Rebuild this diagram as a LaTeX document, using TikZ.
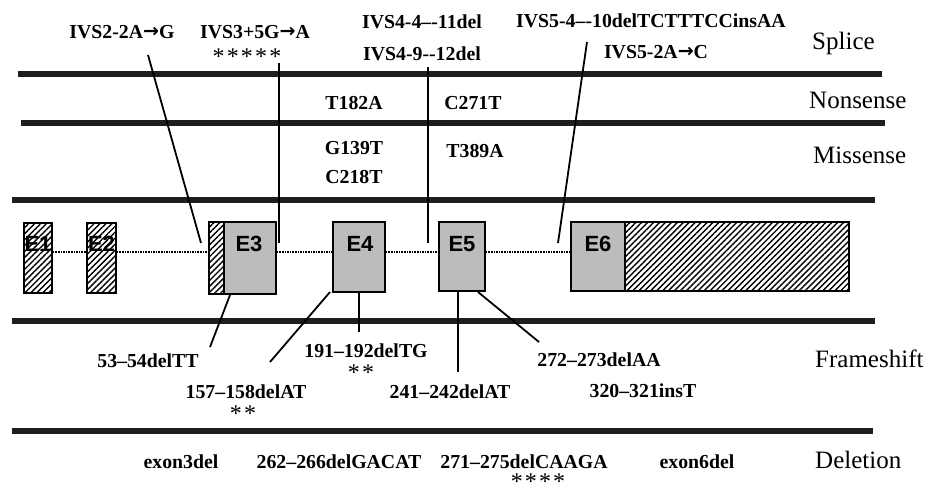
\documentclass[tikz,border=0pt]{standalone}
\usepackage{fontspec}
\setmainfont{Liberation Serif}
\setsansfont{Liberation Sans}
\newfontfamily\arrowfont{DejaVu Sans}
\newcommand{\rarr}{{\arrowfont\bfseries\fontsize{19}{20}\selectfont\raisebox{0.3pt}{→}}}
\newcommand{\stk}[1]{{\fontsize{24}{25}\selectfont\addfontfeature{LetterSpace=9}#1}}
\usetikzlibrary{patterns.meta}
\definecolor{exgray}{RGB}{188,188,188}
\definecolor{barcol}{RGB}{30,30,30}
\begin{document}
\begin{tikzpicture}[x=1pt,y=-1pt,
  lab/.style={font=\fontsize{19.8}{21}\selectfont\bfseries, inner sep=0pt, anchor=base},
  stars/.style={inner sep=0pt, anchor=base},
  cat/.style={font=\fontsize{25}{28}\selectfont, inner sep=0pt, anchor=base west},
  bar/.style={line width=6pt, draw=barcol},
  exbox/.style={draw=black, line width=1.4pt, fill=exgray, inner sep=0pt},
  hatchbox/.style={draw=black, line width=1.4pt, inner sep=0pt, fill=white,
    postaction={pattern={Lines[angle=45,distance=4.2pt,line width=1.4pt]}}},
  exlab/.style={font=\sffamily\bfseries\fontsize{22}{24}\selectfont, inner sep=0pt, anchor=center},
  intron/.style={densely dotted, line width=1.6pt},
  conn/.style={line width=1.8pt}]
\useasboundingbox (0,0) rectangle (934,490);

% horizontal bars
\coordinate (b1l) at (18,74);  \coordinate (b1r) at (882,74);
\coordinate (b2l) at (21,123); \coordinate (b2r) at (885,123);
\coordinate (b3l) at (12,200); \coordinate (b3r) at (875,200);
\coordinate (b4l) at (12,321); \coordinate (b4r) at (875,321);
\coordinate (b5l) at (12,431); \coordinate (b5r) at (873,431);
\draw[bar] (b1l) -- (b1r);
\draw[bar] (b2l) -- (b2r);
\draw[bar] (b3l) -- (b3r);
\draw[bar] (b4l) -- (b4r);
\draw[bar] (b5l) -- (b5r);

% exons
\node[hatchbox, minimum width=28, minimum height=70] (e1) at (38,258) {};
\node[hatchbox, minimum width=29, minimum height=70] (e2) at (101.5,258) {};
\node[hatchbox, minimum width=15, minimum height=72] (e3h) at (216.5,258) {};
\node[exbox, minimum width=52, minimum height=72] (e3) at (250,258) {};
\node[exbox, minimum width=52, minimum height=70] (e4) at (359,257) {};
\node[exbox, minimum width=46, minimum height=69] (e5) at (462,256.5) {};
\node[exbox, minimum width=54, minimum height=69] (e6) at (598,256.5) {};
\node[hatchbox, minimum width=224, minimum height=69] (e6h) at (737,256.5) {};

\node[exlab] (l1) at (38,244) {E1};
\node[exlab] (l2) at (101.5,244) {E2};
\node[exlab] (l3) at (249,244) {E3};
\node[exlab] (l4) at (360,244) {E4};
\node[exlab] (l5) at (462,244) {E5};
\node[exlab] (l6) at (598,244) {E6};

% introns
\coordinate (yi) at (0,252);
\draw[intron] (e1.east |- yi) -- (e2.west |- yi);
\draw[intron] (e2.east |- yi) -- (e3h.west |- yi);
\draw[intron] (e3.east |- yi) -- (e4.west |- yi);
\draw[intron] (e4.east |- yi) -- (e5.west |- yi);
\draw[intron] (e5.east |- yi) -- (e6.west |- yi);

% splice labels
\node[lab] (s1) at (122,38) {IVS2-2A\rarr G};
\node[lab] (s2) at (255,38) {IVS3+5G\rarr A};
\node[stars] (s2st) at (247,64) {\stk{*****}};
\node[lab] (s3) at (422,28) {IVS4-4–-11del};
\node[lab] (s4) at (422,60) {IVS4-9-{}-12del};
\node[lab] (s5) at (651,27) {IVS5-4–-10delTCTTTCCinsAA};
\node[lab] (s6) at (656,58) {IVS5-2A\rarr C};

% nonsense / missense
\node[lab] (n1) at (354,109) {T182A};
\node[lab] (n2) at (473,109) {C271T};
\node[lab] (m1) at (354,154) {G139T};
\node[lab] (m2) at (354,183) {C218T};
\node[lab] (m3) at (475,157) {T389A};

% frameshift
\node[lab] (f1) at (148,367) {53--54delTT};
\node[lab] (f2) at (246,398) {157--158delAT};
\node[stars] (f2st) at (243,421) {\stk{**}};
\node[lab] (f3) at (366,357) {191--192delTG};
\node[stars] (f3st) at (361,380) {\stk{**}};
\node[lab] (f4) at (450,398) {241--242delAT};
\node[lab] (f5) at (599,366) {272--273delAA};
\node[lab] (f6) at (643,397) {320--321insT};

% deletion
\node[lab] (d1) at (181,468) {exon3del};
\node[lab] (d2) at (339,468) {262--266delGACAT};
\node[lab] (d3) at (524,468) {271--275delCAAGA};
\node[stars] (d3st) at (538,489.5) {\stk{****}};
\node[lab] (d4) at (697,468) {exon6del};

% categories
\node[cat] (cs) at (812,49) {Splice};
\node[cat] (cn) at (809,108) {Nonsense};
\node[cat] (cm) at (813,163) {Missense};
\node[cat] (cf) at (815,367) {Frameshift};
\node[cat] (cd) at (815,468) {Deletion};

% connectors
\coordinate (k1a) at (148,55);  \coordinate (k1b) at (201,243);
\coordinate (k2a) at (279,63);  \coordinate (k2b) at (279,243);
\coordinate (k3a) at (428,67);  \coordinate (k3b) at (428,243);
\coordinate (k4a) at (587,42);  \coordinate (k4b) at (558,243);
\coordinate (k5a) at (230,295); \coordinate (k5b) at (210,347);
\coordinate (k6a) at (330,292); \coordinate (k6b) at (270,362);
\coordinate (k7b) at (359,332);
\coordinate (k8a) at (458,291); \coordinate (k8b) at (458,372);
\coordinate (k9a) at (478,292); \coordinate (k9b) at (539,342);
\draw[conn] (k1a) -- (k1b);
\draw[conn] (k2a) -- (k2b);
\draw[conn] (k3a) -- (k3b);
\draw[conn] (k4a) -- (k4b);
\draw[conn] (k5a) -- (k5b);
\draw[conn] (k6a) -- (k6b);
\draw[conn] (e4.south) -- (k7b);
\draw[conn] (k8a) -- (k8b);
\draw[conn] (k9a) -- (k9b);
\end{tikzpicture}
\end{document}
